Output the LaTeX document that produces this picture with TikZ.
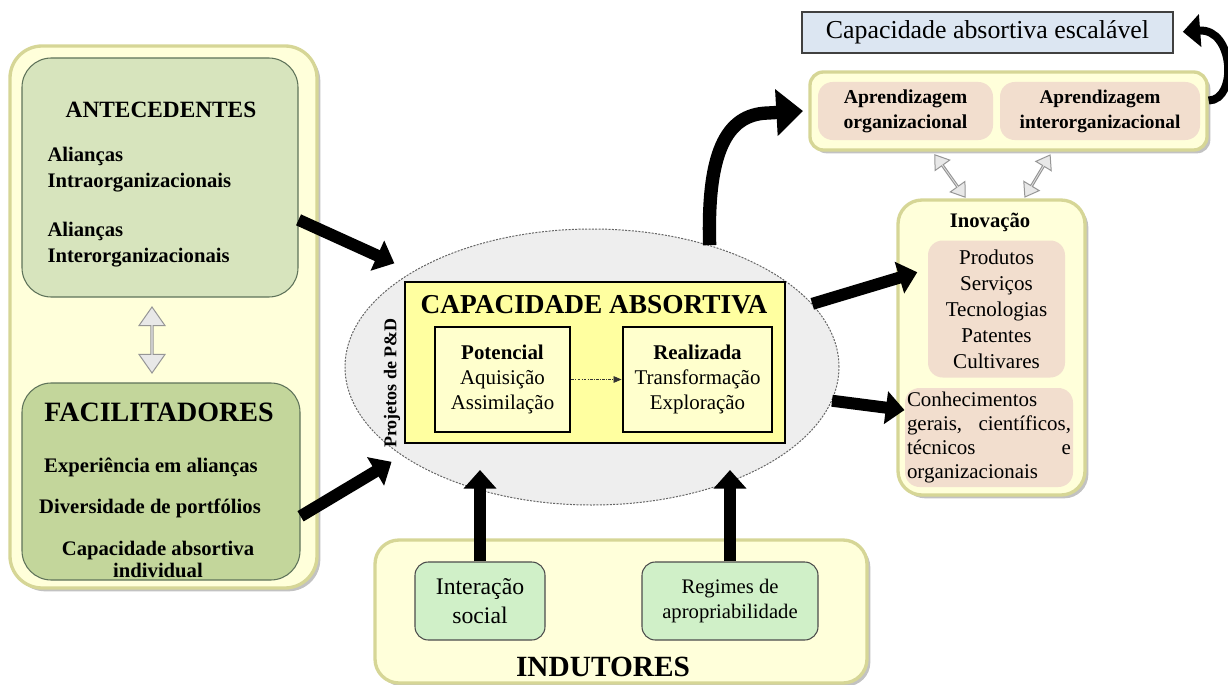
\documentclass[tikz,border=0pt]{standalone}
\usepackage{fontspec}
\setmainfont{Liberation Serif}
\usetikzlibrary{arrows.meta,shapes.geometric,shapes.arrows,shadows}

\newdimen\pxu \pxu=0.75pt
\newcommand{\fsz}[2]{\fontsize{#1}{#2}\selectfont}

\definecolor{panelfill}{RGB}{255,255,218}
\definecolor{panelline}{RGB}{214,214,150}
\definecolor{antefill}{RGB}{215,228,189}
\definecolor{facilfill}{RGB}{195,214,155}
\definecolor{greenline}{RGB}{95,115,90}
\definecolor{ellfill}{RGB}{238,238,238}
\definecolor{capyellow}{RGB}{255,255,160}
\definecolor{subyellow}{RGB}{255,255,205}
\definecolor{mintfill}{RGB}{208,240,200}
\definecolor{bluefill}{RGB}{220,230,242}
\definecolor{beige}{RGB}{242,222,206}
\definecolor{grayfill}{RGB}{232,232,232}
\definecolor{grayline}{RGB}{150,150,150}

\tikzset{every picture/.style={line width=0.75pt}}

\begin{document}
\begin{tikzpicture}[x=0.75pt,y=0.75pt,yscale=-1,xscale=1,
  panel/.style={draw=panelline, line width=2.5pt, fill=panelfill, inner sep=0pt,
    drop shadow={shadow xshift=2.5pt, shadow yshift=-2.5pt, opacity=0.4, fill=black!60}},
  greenbox/.style={draw=greenline, line width=0.8pt, rounded corners=22pt, inner sep=0pt},
  yelbox/.style={draw=black, line width=2.2pt, inner sep=0pt},
  mintbox/.style={draw=black!70, line width=0.8pt, fill=mintfill, rounded corners=10pt, inner sep=0pt, align=center},
  beigebox/.style={fill=beige, rounded corners=11pt, inner sep=0pt, align=center},
  lbl/.style={inner sep=0pt, align=center},
  bigarrow/.style={line width=9pt, -{Triangle[length=14pt,width=24pt]}},
  dblarrow/.style={double arrow, draw=grayline, fill=grayfill, line width=0.75pt, inner sep=0pt, double arrow tip angle=70}
]
\useasboundingbox (0,0) rectangle (1228,685);

% left column: antecedentes and facilitadores
\node[panel, rounded corners=24pt, minimum width=307\pxu, minimum height=542\pxu] (lpanel) at (163.5,317) {};
\node[greenbox, fill=antefill, minimum width=276\pxu, minimum height=239\pxu] (ante) at (160,177.5) {};
\node[lbl, font=\fsz{17.5}{20}\bfseries] (anteT) at (161,110) {ANTECEDENTES};
\node[lbl, anchor=west, align=left, font=\fsz{15.5}{19.5}\bfseries] (anteA) at (47,170) {Alianças\\Intraorganizacionais};
\node[lbl, anchor=west, align=left, font=\fsz{15.5}{19.5}\bfseries] (anteB) at (47,245) {Alianças\\Interorganizacionais};
\node[greenbox, fill=facilfill, minimum width=278\pxu, minimum height=197\pxu] (facil) at (161,481.5) {};
\node[lbl, font=\fsz{21}{24}\bfseries] (facilT) at (159,412) {FACILITADORES};
\node[lbl, font=\fsz{15.5}{17}\bfseries] (facilA) at (151,467) {Experiência em alianças};
\node[lbl, font=\fsz{15.5}{17}\bfseries] (facilB) at (150,508) {Diversidade de portfólios};
\node[lbl, font=\fsz{15.5}{16.5}\bfseries] (facilC) at (158,559) {Capacidade absortiva\\individual};
\node[dblarrow, rotate=90, minimum height=66\pxu, minimum width=26\pxu, double arrow head extend=5\pxu] (linkAF) at (152,340) {};

% central ellipse
\node[ellipse, draw=black!60, dash pattern=on 1.5pt off 1pt, fill=ellfill, minimum width=494\pxu, minimum height=276\pxu, inner sep=0pt] (cap) at (592,367) {};
\node[yelbox, fill=capyellow, minimum width=380\pxu, minimum height=161\pxu] (capbox) at (595,362.5) {};
\node[lbl, font=\fsz{20.5}{22}\bfseries] (capT) at (594,305) {CAPACIDADE ABSORTIVA};
\node[yelbox, fill=subyellow, minimum width=135\pxu, minimum height=105\pxu, align=center, font=\fsz{15.7}{18.5}] (pot) at (502.5,379.5) {\textbf{Potencial}\\Aquisição\\Assimilação};
\node[yelbox, fill=subyellow, minimum width=149\pxu, minimum height=105\pxu, align=center, font=\fsz{15.7}{18.5}] (real) at (697.5,379.5) {\textbf{Realizada}\\Transformação\\Exploração};
\draw[black!80, line width=0.6pt, dash pattern=on 2pt off 1pt on 0.6pt off 1pt, -{Triangle[length=6pt,width=5pt]}] (pot.east) -- (real.west);
\node[lbl, rotate=90, font=\fsz{13.5}{15}\bfseries] (proj) at (392,383) {Projetos de P\&D};

% indutores
\node[panel, rounded corners=18pt, minimum width=492\pxu, minimum height=143\pxu] (indp) at (621,611.5) {};
\node[mintbox, minimum width=130\pxu, minimum height=78\pxu, font=\fsz{17.8}{22}] (inter) at (480,601) {Interação\\social};
\node[mintbox, minimum width=176\pxu, minimum height=78\pxu, font=\fsz{15.5}{19}] (regi) at (730,601) {Regimes de\\apropriabilidade};
\node[lbl, font=\fsz{22}{24}\bfseries] (indT) at (603,667) {INDUTORES};

% right side
\node[draw=black!75, line width=0.8pt, fill=bluefill, minimum width=371\pxu, minimum height=41\pxu, inner sep=0pt, font=\fsz{19.4}{21}] (esc) at (987.5,32.5) {Capacidade absortiva escalável};
\node[panel, rounded corners=10pt, minimum width=397\pxu, minimum height=78\pxu] (apr) at (1008.5,111) {};
\node[beigebox, minimum width=175\pxu, minimum height=58\pxu, font=\fsz{14.8}{18.75}\bfseries] (aprO) at (905.5,111) {Aprendizagem\\organizacional};
\node[beigebox, minimum width=200\pxu, minimum height=58\pxu, font=\fsz{14.5}{18.75}\bfseries] (aprI) at (1100,111) {Aprendizagem\\interorganizacional};
\node[panel, rounded corners=18pt, minimum width=187\pxu, minimum height=295\pxu] (inov) at (991.5,347.5) {};
\node[lbl, font=\fsz{15.5}{17}\bfseries] (inovT) at (990,222) {Inovação};
\node[beigebox, minimum width=137\pxu, minimum height=137\pxu, font=\fsz{15.8}{19.5}] (prod) at (996.5,309) {Produtos\\Serviços\\Tecnologias\\Patentes\\Cultivares};
\node[beigebox, minimum width=168\pxu, minimum height=99\pxu, font=\fsz{15.7}{18}, align=left] (conh) at (989,437.5) {Conhecimentos\\\makebox[123pt][s]{gerais, científicos,}\\\makebox[123pt][s]{técnicos e}\\organizacionais};
\node[dblarrow, rotate=-54.5, minimum height=52\pxu, minimum width=18\pxu, double arrow head extend=4\pxu] (linkAI1) at (950,176) {};
\node[dblarrow, rotate=59, minimum height=49\pxu, minimum width=18\pxu, double arrow head extend=4\pxu] (linkAI2) at (1037.5,176) {};

% black arrows
\coordinate (capIn1) at (480,470);
\coordinate (capIn2) at (730,470);
\draw[bigarrow, shorten >=15pt] (ante.-17) -- (cap.152);
\draw[bigarrow, shorten >=9pt] (facil.-14) -- (cap.205);
\draw[bigarrow, shorten >=8pt] (cap.16) -- (prod.150);
\draw[bigarrow] (cap.-8) -- (conh.162);
\draw[bigarrow] (inter.north) -- (capIn1);
\draw[bigarrow] (regi.north) -- (capIn2);
\draw[bigarrow, line width=10pt, -{Triangle[length=20pt,width=34pt]}] (cap.46) .. controls (707,155) and (725,114) .. (768,113) -- ([xshift=-4pt]apr.west);
\draw[bigarrow, line width=6pt, -{Triangle[length=13pt,width=24pt]}, shorten >=7pt] (apr.3) .. controls (1238,100) and (1234,28) .. (esc.east);

\end{tikzpicture}
\end{document}
